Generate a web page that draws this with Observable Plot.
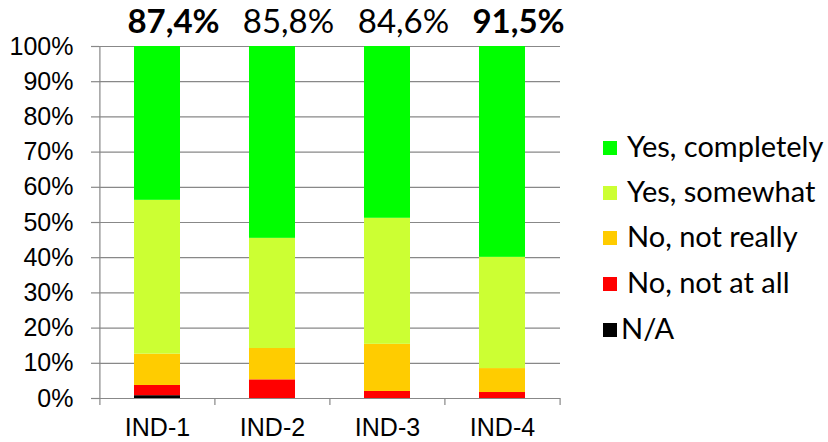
<!DOCTYPE html>
<html><head><meta charset="utf-8">
<script src="https://cdn.jsdelivr.net/npm/d3@7"></script>
<script src="https://cdn.jsdelivr.net/npm/@observablehq/plot@0.6"></script>
<style>
body{margin:0;background:#fff}
#wrap{position:relative;width:828px;height:442px;overflow:hidden}
#legend{position:absolute;left:603px;top:0;font-family:Lato,"Open Sans",sans-serif;font-size:29px;color:#000}
.item{position:absolute;left:0;white-space:nowrap;display:flex;align-items:center;height:40px}
.sw{width:14px;height:14px;display:inline-block}
</style></head><body><div id="wrap"><div id="legend"></div></div>
<script>
const categories = ["IND-1","IND-2","IND-3","IND-4"];
const series = ["N/A","No, not at all","No, not really","Yes, somewhat","Yes, completely"];
const colors = ["#000000","#FF0000","#FFCC00","#CCFF33","#00FF00"];
const naValues   = [0.8, 0.0, 0.0, 0.0];
const notAtAll   = [2.9, 5.3, 2.0, 1.7];
const notReally  = [8.9, 8.9, 13.4, 6.8];
const somewhat   = [43.7, 31.3, 35.8, 31.6];
const completely = [43.7, 54.5, 48.8, 59.9];
const topLabels = ["87,4%","85,8%","84,6%","91,5%"];
const topBold = [true, false, false, true];
const yTicks = [0,10,20,30,40,50,60,70,80,90,100];

const seriesValues = [naValues, notAtAll, notReally, somewhat, completely];
const rows = [];
categories.forEach((c, i) => series.forEach((s, j) => rows.push({cat: c, series: s, value: seriesValues[j][i]})));
const labelRows = categories.map((c, i) => ({cat: c, label: topLabels[i], bold: topBold[i]}));
const halfStep = 57.6;
const seps = categories.map(c => ({cat: c})).concat([{cat: categories[categories.length-1]}]);
const grid = "#888888";

const chart = Plot.plot({
  width: 828, height: 442,
  marginLeft: 99, marginRight: 268, marginTop: 46, marginBottom: 44,
  style: {fontFamily: "'Liberation Sans', Arial, sans-serif", background: "white"},
  x: {domain: categories, paddingInner: 0.6, paddingOuter: 0.3, label: null},
  y: {domain: [0, 100], label: null},
  color: {domain: series, range: colors},
  marks: [
    Plot.ruleY(yTicks, {stroke: grid, strokeWidth: 1.2}),
    Plot.barY(rows, {x: "cat", y: "value", fill: "series"}),
    Plot.ruleX(seps.slice(0,1), {x: "cat", dx: -halfStep, y1: 0, y2: 100, stroke: grid, strokeWidth: 1.2}),
    Plot.ruleX(seps.slice(0, categories.length), {x: "cat", dx: -halfStep, y1: 0, y2: -2, stroke: grid, strokeWidth: 1.2}),
    Plot.ruleX(seps.slice(categories.length), {x: "cat", dx: halfStep, y1: 0, y2: -2, stroke: grid, strokeWidth: 1.2}),
    Plot.axisY({ticks: yTicks, tickFormat: d => d + "%", tickSize: 8, tickPadding: 18, fontSize: 25, stroke: grid, strokeWidth: 1.2, color: "#000", label: null}),
    Plot.axisX({tickSize: 0, tickPadding: 20, fontSize: 25, label: null, color: "#000"}),
    Plot.text(labelRows.filter(d => d.bold), {x: "cat", y: 100, text: "label", dy: -24, dx: 16, fontSize: 33, fontWeight: "bold", fontFamily: "Lato", fill: "#000"}),
    Plot.text(labelRows.filter(d => !d.bold), {x: "cat", y: 100, text: "label", dy: -24, dx: 16, fontSize: 33, fontFamily: "Lato", fill: "#000"})
  ]
});
document.getElementById("wrap").prepend(chart);

const legend = document.getElementById("legend");
const legendOrder = series.slice().reverse();
const legendY = [148, 193, 238, 284, 330];
legendOrder.forEach((s, k) => {
  const it = document.createElement("div");
  it.className = "item";
  it.style.top = (legendY[k] - 20) + "px";
  const sw = document.createElement("span");
  sw.className = "sw";
  sw.style.background = colors[series.indexOf(s)];
  const tx = document.createElement("span");
  tx.textContent = s;
  tx.style.marginLeft = s === "N/A" ? "4px" : "10px";
  tx.style.position = "relative"; tx.style.top = "-3px";
  it.append(sw, tx);
  legend.append(it);
});
</script></body></html>
